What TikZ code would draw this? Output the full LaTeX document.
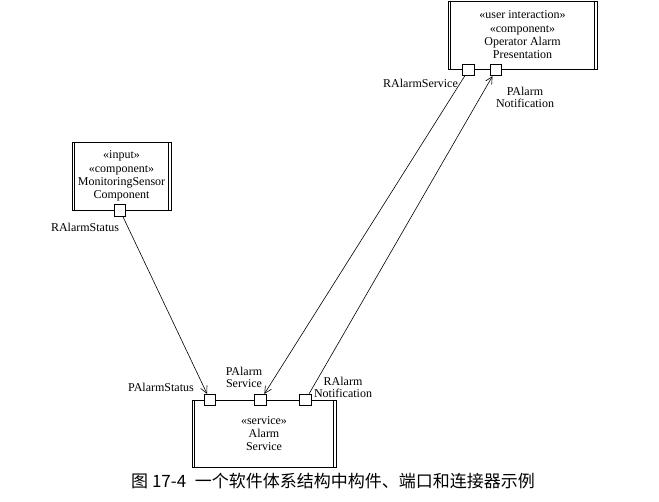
\documentclass[tikz,border=0pt]{standalone}
\usepackage{fontspec}
\setmainfont{Liberation Serif}
\newfontfamily\cjk{Noto Sans CJK SC}
\usetikzlibrary{arrows.meta}
\begin{document}
\begin{tikzpicture}[x=1pt,y=-1pt,
  comp/.style={draw, line width=0.7pt, fill=white, inner sep=0pt, align=center,
    font=\fontsize{12}{13.3}\selectfont},
  port/.style={draw, fill=white, minimum size=11.5pt, inner sep=0pt, line width=0.7pt},
  lbl/.style={font=\fontsize{12}{12}\selectfont, inner sep=0pt, align=center},
  conn/.style={line width=0.6pt, -{Straight Barb[length=7pt,width=7pt]}},
  dbl/.style={line width=0.7pt}
]
\useasboundingbox (0,0) rectangle (659,501);

\node[comp, minimum width=149pt, minimum height=68pt] (oap) at (522.5,35)
  {«user interaction»\\«component»\\Operator Alarm\\Presentation};
\node[comp, minimum width=99pt, minimum height=68pt] (msc) at (121.5,176)
  {«input»\\«component»\\MonitoringSensor\\Component};
\node[comp, minimum width=144pt, minimum height=67pt] (as) at (264,433.5)
  {«service»\\Alarm\\Service};

\foreach \n in {oap,msc,as}{
  \draw[dbl] ([xshift=3pt]\n.north west) -- ([xshift=3pt]\n.south west);
  \draw[dbl] ([xshift=-3pt]\n.north east) -- ([xshift=-3pt]\n.south east);
}

\node[port] (mp) at (120,210.5) {};
\node[port] (op1) at (468.5,70) {};
\node[port] (op2) at (496,70) {};
\node[port] (ap1) at (210,400) {};
\node[port] (ap2) at (260.5,400) {};
\node[port] (ap3) at (305.5,400) {};

\draw[conn] (mp) -- (ap1);
\draw[conn] (op1) -- (ap2);
\draw[conn] (ap3) -- (op2);

\node[lbl] (l1) at (420.5,83) {RAlarmService};
\node[lbl] (l2) at (525,97) {PAlarm\\Notification};
\node[lbl] (l3) at (85,227) {RAlarmStatus};
\node[lbl] (l4) at (161,387) {PAlarmStatus};
\node[lbl] (l5) at (244,377.5) {PAlarm\\Service};
\node[lbl] (l6) at (343,387) {RAlarm\\Notification};

\node[inner sep=0pt] (cap) at (333,481)
  {\cjk\fontsize{17}{17}\selectfont 图 17-4\hspace{0.5em}一个软件体系结构中构件、端口和连接器示例};
\end{tikzpicture}
\end{document}
